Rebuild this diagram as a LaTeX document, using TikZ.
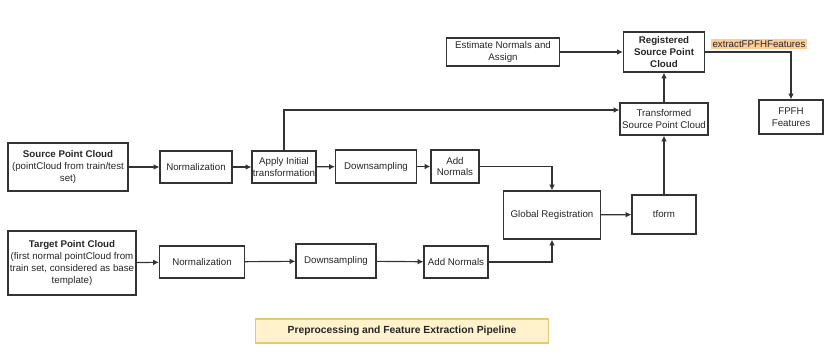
\documentclass[tikz,border=0pt]{standalone}
\usepackage{fontspec}
\setmainfont{Liberation Sans}
\usetikzlibrary{arrows.meta}
\definecolor{edgegray}{HTML}{333333}
\definecolor{lblorange}{HTML}{FFCC99}
\definecolor{titlefill}{HTML}{FFF2CC}
\definecolor{titledraw}{HTML}{E6C86E}
\begin{document}
\begin{tikzpicture}[
  x=0.03cm, y=-0.03cm,
  box/.style={rectangle, draw=edgegray, line width=1pt, fill=white, align=center, inner sep=0.5pt, font={\fontsize{8.3}{10}\selectfont}, text=black!85},
  flow/.style={line width=1pt, draw=edgegray, -{Latex[length=5pt,width=5pt]}}
]
\useasboundingbox (0,0) rectangle (833,356);
\node[box, minimum width=3.6cm, minimum height=1.44cm] (src) at (68,167) {\textbf{Source Point Cloud}\\(pointCloud from train/test\\set)};
\node[box, minimum width=2.16cm, minimum height=0.96cm] (nrmA) at (196,167) {Normalization};
\node[box, minimum width=1.92cm, minimum height=0.96cm] (apply) at (284,167) {Apply Initial\\transformation};
\node[box, minimum width=2.43cm, minimum height=0.99cm] (downA) at (376,166.5) {Downsampling};
\node[box, minimum width=1.44cm, minimum height=0.99cm] (addA) at (455,166.5) {Add\\Normals};
\node[box, minimum width=2.91cm, minimum height=1.44cm] (glob) at (552,215) {Global Registration};
\node[box, minimum width=1.92cm, minimum height=1.17cm] (tform) at (664,214.5) {tform};
\node[box, minimum width=3.84cm, minimum height=1.92cm] (tgt) at (72,263) {\textbf{Target Point Cloud}\\(first normal pointCloud from\\train set, considered as base\\template)};
\node[box, minimum width=2.55cm, minimum height=0.96cm] (nrmB) at (202,262) {Normalization};
\node[box, minimum width=2.4cm, minimum height=1.02cm] (downB) at (336,261) {Downsampling};
\node[box, minimum width=1.92cm, minimum height=0.96cm] (addB) at (456,262) {Add Normals};
\node[box, minimum width=3.39cm, minimum height=0.84cm] (est) at (503,52) {Estimate Normals and\\Assign};
\node[box, minimum width=2.43cm, minimum height=1.2cm] (reg) at (664,52) {\textbf{Registered}\\\textbf{Source Point}\\\textbf{Cloud}};
\node[box, minimum width=2.64cm, minimum height=0.96cm] (trans) at (664,119) {Transformed\\Source Point Cloud};
\node[box, minimum width=1.92cm, minimum height=1.02cm] (fpfh) at (791,117) {FPFH\\Features};
\node[fill=lblorange, inner sep=1pt, font={\fontsize{8.3}{10}\selectfont}, text=black!85] (lbl) at (759,44) {extractFPFHFeatures};
\node[box, draw=titledraw, fill=titlefill, minimum width=8.79cm, minimum height=0.72cm, font={\fontsize{8.8}{10}\selectfont\bfseries}] (title) at (402,331) {Preprocessing and Feature Extraction Pipeline};
\draw[flow] (src) -- (nrmA);
\draw[flow] (nrmA) -- (apply);
\draw[flow] (apply) -- (downA);
\draw[flow] (downA) -- (addA);
\draw[flow] (addA.east) -| (glob.north);
\draw[flow] (tgt) -- (nrmB);
\draw[flow] (nrmB) -- (downB);
\draw[flow] (downB) -- (addB);
\draw[flow] (addB.east) -| (glob.south);
\draw[flow] (glob) -- (tform);
\draw[flow] (tform.north) -- (trans.south);
\draw[flow] (apply.north) |- ([yshift=0.27cm]trans.west);
\draw[flow] (trans) -- (reg);
\draw[flow] (est) -- (reg);
\draw[flow] (reg.east) -| (fpfh.north);
\end{tikzpicture}
\end{document}
